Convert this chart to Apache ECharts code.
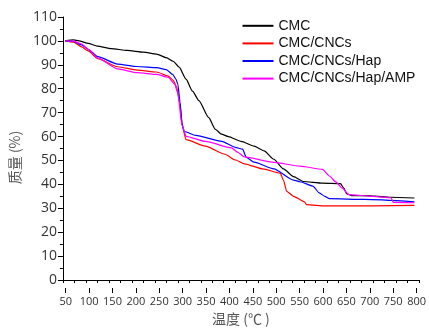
<!DOCTYPE html>
<html><head><meta charset="utf-8">
<script src="https://cdn.jsdelivr.net/npm/echarts@6/dist/echarts.min.js"></script>
<style>html,body{margin:0;padding:0;background:#fff}#c{width:429px;height:331px}</style>
</head><body><div id="c"></div>
<script>
var seriesNames = ['CMC', 'CMC/CNCs', 'CMC/CNCs/Hap', 'CMC/CNCs/Hap/AMP'];
var cmcT = [30,48,60,80,100,130,165,200,229,250,265,278,293,307,321,342,357,370,385,413,441,463,484,505,527,548,590,629,636,643,654,697,739,790];
var cmcV = [100,100.4,100,99,97.8,96.8,96,95.3,94.5,93,91.5,89,84,79,75,68,63,61,60,58,56,54,50.5,46.5,43.2,41.2,40.5,40.3,38.5,36,35.3,35.2,34.6,34.3];
var cncT = [30,48,66,80,101,144,187,229,254,265,272,279,286,293,335,378,399,420,460,498,505,512,527,551,555,597,700,790];
var cncV = [100,99.5,97.5,95.8,92.6,89.2,87.8,87,85.3,83.5,81,74.3,63.4,58.7,56,52.6,50.3,48.6,46.5,44.7,41.8,37.1,35,32.7,31.5,31,31,31.2];
var hapT = [30,48,66,80,101,144,187,229,250,264,271,275,280,284,289,314,371,400,416,424,441,484,527,541,569,583,595,605,682,790];
var hapV = [100,99.8,98.3,96.5,93.4,90.3,89.3,88.8,88,86,84,82,74.3,65.5,62.1,60.5,58,55.5,54.7,51.3,49.3,46.5,41.8,41.1,39.3,36.4,35,34,33.7,32.7];
var ampT = [30,48,66,80,101,144,187,229,254,268,275,284,293,335,392,405,420,484,541,590,605,619,633,647,700,739,744,790];
var ampV = [100,99.9,98.7,96.5,92.8,88.3,86.7,86,84.8,82,78.3,64.8,60.1,58,55.3,53.5,51.5,49.2,47.6,46.3,43.5,41,38.4,35.7,35,34.4,32.5,32.3];
var xTickLabels = [50,100,150,200,250,300,350,400,450,500,550,600,650,700,750,800];
var yTickLabels = [0,10,20,30,40,50,60,70,80,90,100,110];

function pairs(t, v) { return t.map(function (x, i) { return [x, v[i]]; }); }
var allData = [pairs(cmcT, cmcV), pairs(cncT, cncV), pairs(hapT, hapV), pairs(ampT, ampV)];
var colors = ['#000000', '#ff0000', '#0000ff', '#ff00ff'];

var chart = echarts.init(document.getElementById('c'), null, {renderer: 'canvas'});
var font = '"Open Sans", "Noto Sans", sans-serif';
chart.setOption({
  animation: false,
  backgroundColor: '#fff',
  color: colors,
  legend: {
    orient: 'vertical', left: 237.5, top: 12,
    itemWidth: 31, itemHeight: 2, itemGap: 0, icon: 'rect',
    textStyle: {fontFamily: 'Liberation Sans, Arial, sans-serif', fontSize: 14, color: '#111', lineHeight: 17.6},
    data: seriesNames
  },
  grid: [
    {left: 53.5, top: 17, width: 365.5, height: 271},
    {left: 65.7, top: 17, width: 353.3, height: 271}
  ],
  xAxis: [
    {type: 'value', gridIndex: 0, min: 25, max: 800, interval: 25,
      axisLine: {show: true, lineStyle: {color: '#000', width: 1}},
      axisTick: {show: true, length: 3, lineStyle: {color: '#000'}},
      axisLabel: {show: false}, splitLine: {show: false},
      name: '温度 (℃ )', nameLocation: 'middle', nameGap: 32,
      nameTextStyle: {fontFamily: 'Noto Sans CJK SC, sans-serif', fontSize: 14, color: '#555'}
    },
    {type: 'value', gridIndex: 1, min: xTickLabels[0], max: xTickLabels[xTickLabels.length-1], interval: 50,
      axisLine: {show: false},
      axisTick: {show: true, length: 5, lineStyle: {color: '#000'}},
      axisLabel: {show: true, margin: 8, fontFamily: font, fontSize: 11, color: '#333'},
      splitLine: {show: false}
    }
  ],
  yAxis: [
    {type: 'value', gridIndex: 0, min: yTickLabels[0], max: yTickLabels[yTickLabels.length-1], interval: 10,
      axisLine: {show: true, lineStyle: {color: '#000', width: 1}},
      axisTick: {show: true, length: 5, lineStyle: {color: '#000'}},
      minorTick: {show: true, splitNumber: 2, length: 3, lineStyle: {color: '#000'}},
      axisLabel: {margin: 6, fontFamily: font, fontSize: 14, color: '#333'},
      splitLine: {show: false},
      name: '质量 (%)', nameLocation: 'middle', nameGap: 30, nameRotate: 90,
      nameTextStyle: {fontFamily: 'Noto Sans CJK SC, sans-serif', fontSize: 14, color: '#555', padding: [0, 18, 0, 0]}
    },
    {type: 'value', gridIndex: 1, show: false, min: 0, max: 110}
  ],
  series: allData.map(function (d, i) {
    return {
      name: seriesNames[i], type: 'line', xAxisIndex: 0, yAxisIndex: 0,
      data: d, showSymbol: false, symbol: 'none',
      smooth: 0.2, smoothMonotone: 'x',
      lineStyle: {color: colors[i], width: 1.2},
      itemStyle: {color: colors[i]}
    };
  })
});
</script></body></html>
